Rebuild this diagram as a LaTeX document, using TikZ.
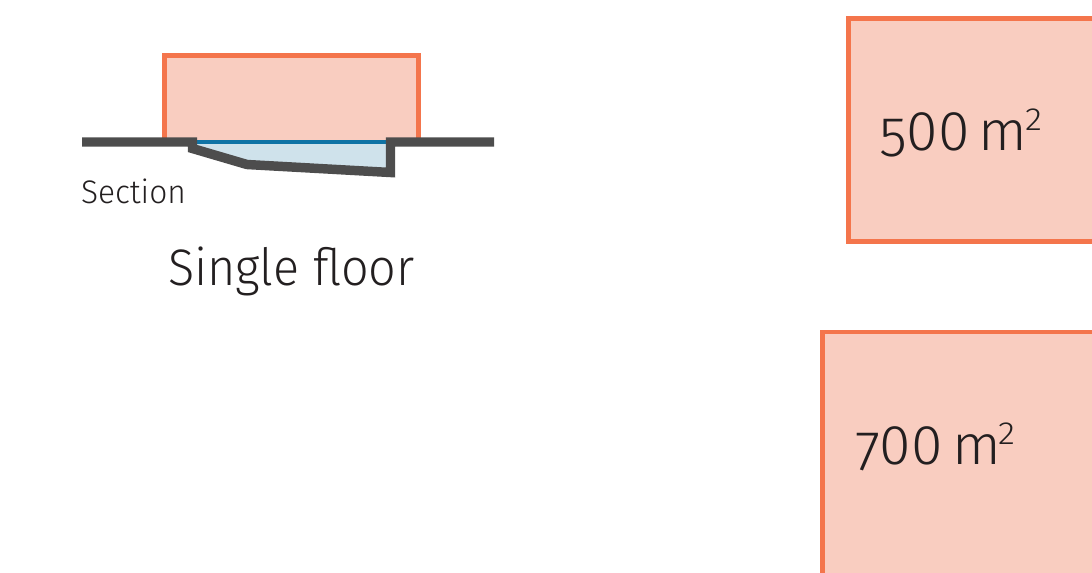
\documentclass[tikz,border=0pt]{standalone}
\usepackage{fontspec}
\setmainfont{Fira Sans Light}
\newfontfamily\tightfont[FakeStretch=0.945]{Fira Sans Light}
\newfontfamily\sectionfont[FakeStretch=0.97]{Fira Sans Light}
\newfontfamily\numfont[FakeStretch=1.02]{Fira Sans Light}
\newfontfamily\supfont[FakeStretch=1.1]{Fira Sans Light}
\definecolor{roomfill}{HTML}{F9CDC0}
\definecolor{roomline}{HTML}{F4754C}
\definecolor{ground}{HTML}{4D4D4D}
\definecolor{waterfill}{HTML}{CFE2EB}
\definecolor{waterline}{HTML}{0F73A5}
\definecolor{ink}{HTML}{231F20}
\newcommand{\areatext}[1]{\raisebox{-5pt}{#1}00\kern 7pt m\kern -2pt\raisebox{15pt}{\fontsize{24pt}{24pt}\supfont 2}}
\tikzset{
  room/.style={fill=roomfill,draw=roomline,line width=3.2pt,miter limit=10},
  groundline/.style={draw=ground,line width=7.1pt,line join=miter},
  label/.style={anchor=base west,inner sep=0pt,outer sep=0pt,text=ink}
}
\begin{document}
\begin{tikzpicture}[x=0.75pt,y=-0.75pt]
\useasboundingbox (0,0) rectangle (1092,572);
\clip (0,0) rectangle (1092,572);
\path[room] (164.5,142) -- (164.5,55.5) -- (418.5,55.5) -- (418.5,142);
\fill[waterfill] (197,142) -- (197,148) -- (247,164) -- (386,172) -- (386,142) -- cycle;
\fill[waterline] (197,139.5) rectangle (386,144);
\draw[groundline] (82,142) -- (192.5,142) -- (192.5,148.5) -- (247,164.5) -- (390.5,172.5) -- (390.5,142) -- (494,142);
\path[room] (848.5,18.5) rectangle (1110,241.5);
\path[room] (822.5,332) rectangle (1110,600);
\node[label,font=\fontsize{24.5pt}{24pt}\sectionfont] (sec) at (81,203) {Section};
\node[label,font=\fontsize{38.5pt}{38pt}\tightfont] (sf) at (168,285) {Single floor};
\node[label,font=\fontsize{42pt}{42pt}\numfont] (a) at (879,150) {\areatext{5}};
\node[label,font=\fontsize{42pt}{42pt}\numfont] (b) at (855,464) {\areatext{7}};
\end{tikzpicture}
\end{document}
